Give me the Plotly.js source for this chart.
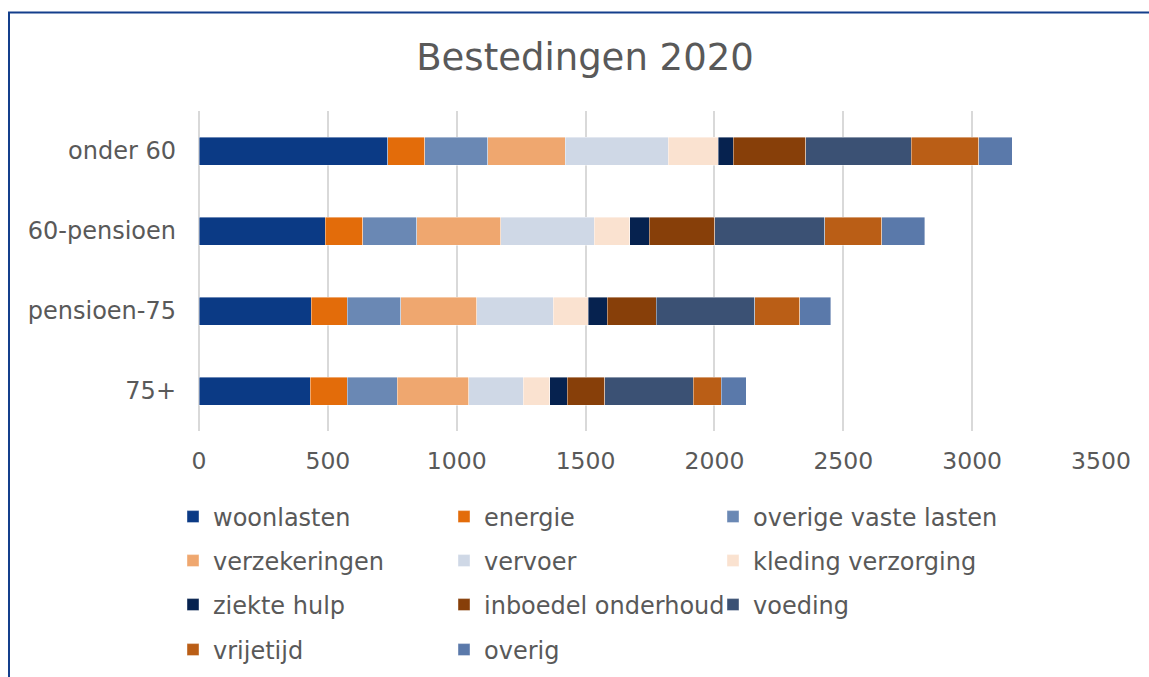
<!DOCTYPE html>
<html>
<head>
<meta charset="utf-8">
<script src="https://cdn.plot.ly/plotly-3.0.1.min.js"></script>
<style>html,body{margin:0;padding:0;background:#fff;}#chart{width:1149px;height:677px;}</style>
</head>
<body>
<div id="chart"></div>
<script>
// Categories (top to bottom)
var categories = ['onder 60', '60-pensioen', 'pensioen-75', '75+'];

// Series values (per category, same order)
var woonlasten         = [733, 489, 435, 431];
var energie            = [143, 146, 140, 144];
var overigeVasteLasten = [244, 210, 208, 194];
var verzekeringen      = [302, 326, 294, 277];
var vervoer            = [399, 363, 298, 212];
var kledingVerzorging  = [194, 138, 135, 103];
var ziekteHulp         = [58, 76, 75, 68];
var inboedelOnderhoud  = [281, 254, 190, 145];
var voeding            = [409, 427, 382, 343];
var vrijetijd          = [262, 221, 175, 110];
var overig             = [131, 166, 119, 97];

var seriesNames = ['woonlasten', 'energie', 'overige vaste lasten', 'verzekeringen', 'vervoer',
  'kleding verzorging', 'ziekte hulp', 'inboedel onderhoud', 'voeding', 'vrijetijd', 'overig'];
var seriesValues = [woonlasten, energie, overigeVasteLasten, verzekeringen, vervoer,
  kledingVerzorging, ziekteHulp, inboedelOnderhoud, voeding, vrijetijd, overig];
var seriesColors = ['#0B3A85', '#E36C0A', '#6A88B4', '#EFA76F', '#CFD8E6',
  '#FAE2D0', '#06224F', '#873F09', '#3B5174', '#BA5E16', '#5A79AA'];

var xTicks = [0, 500, 1000, 1500, 2000, 2500, 3000, 3500];

var textColor = '#595959';
var font = 'DejaVu Sans, Verdana, sans-serif';

// legend grid: 3 columns, rows of 3 entries
var legendColX = [173, 444, 713];
var legendRowY = [517, 561, 605, 650];

function legendId(i) { return i === 0 ? 'legend' : 'legend' + (i + 1); }

var traces = seriesNames.map(function (name, i) {
  return {
    type: 'bar',
    orientation: 'h',
    name: name,
    x: seriesValues[i],
    y: categories,
    marker: { color: seriesColors[i], line: { color: 'rgba(255,255,255,0.5)', width: 0.8 } },
    legend: legendId(i),
    hoverinfo: 'x+name'
  };
});

function makeLegend(i) {
  var col = i % 3, row = Math.floor(i / 3);
  return {
    orientation: 'h',
    xref: 'container', yref: 'container',
    x: legendColX[col] / 1149, xanchor: 'left',
    y: 1 - legendRowY[row] / 677, yanchor: 'middle',
    font: { family: font, size: 24, color: textColor },
    bgcolor: 'rgba(0,0,0,0)'
  };
}

var plotL = 199, plotR = 1101, plotT = 111, plotB = 431;
var pw = plotR - plotL, ph = plotB - plotT;

var layout = {
  width: 1149, height: 677,
  margin: { l: plotL, r: 1149 - plotR, t: plotT, b: 677 - plotB, pad: 0 },
  paper_bgcolor: '#ffffff', plot_bgcolor: '#ffffff',
  barmode: 'stack',
  bargap: 0.65,
  title: {
    text: 'Bestedingen 2020',
    xref: 'container', yref: 'container',
    x: 585 / 1149, xanchor: 'center',
    y: 1 - 57 / 677, yanchor: 'middle',
    font: { family: font, size: 37, color: textColor }
  },
  xaxis: {
    range: [0, 3500],
    tickvals: xTicks,
    ticktext: xTicks.map(String),
    showgrid: true, gridcolor: '#D9D9D9', gridwidth: 1.5,
    zeroline: true, zerolinecolor: '#D9D9D9', zerolinewidth: 1.5,
    showline: false, ticks: '',
    ticklabelstandoff: 13,
    tickfont: { family: font, size: 23.5, color: textColor },
    fixedrange: true
  },
  yaxis: {
    type: 'category',
    categoryorder: 'array', categoryarray: categories,
    autorange: 'reversed',
    showgrid: false, zeroline: false, showline: false, ticks: '',
    ticklabelstandoff: 22,
    tickfont: { family: font, size: 24, color: textColor },
    fixedrange: true
  },
  shapes: [{
    type: 'rect', xref: 'paper', yref: 'paper',
    x0: (9 - plotL) / pw, x1: (1165 - plotL) / pw,
    y0: (plotB - 700) / ph, y1: (plotB - 12.5) / ph,
    line: { color: '#143F8C', width: 2 },
    fillcolor: 'rgba(0,0,0,0)',
    layer: 'below'
  }],
  showlegend: true
};
seriesNames.forEach(function (n, i) { layout[legendId(i)] = makeLegend(i); });

Plotly.newPlot('chart', traces, layout, { displayModeBar: false, responsive: false });
</script>
</body>
</html>
